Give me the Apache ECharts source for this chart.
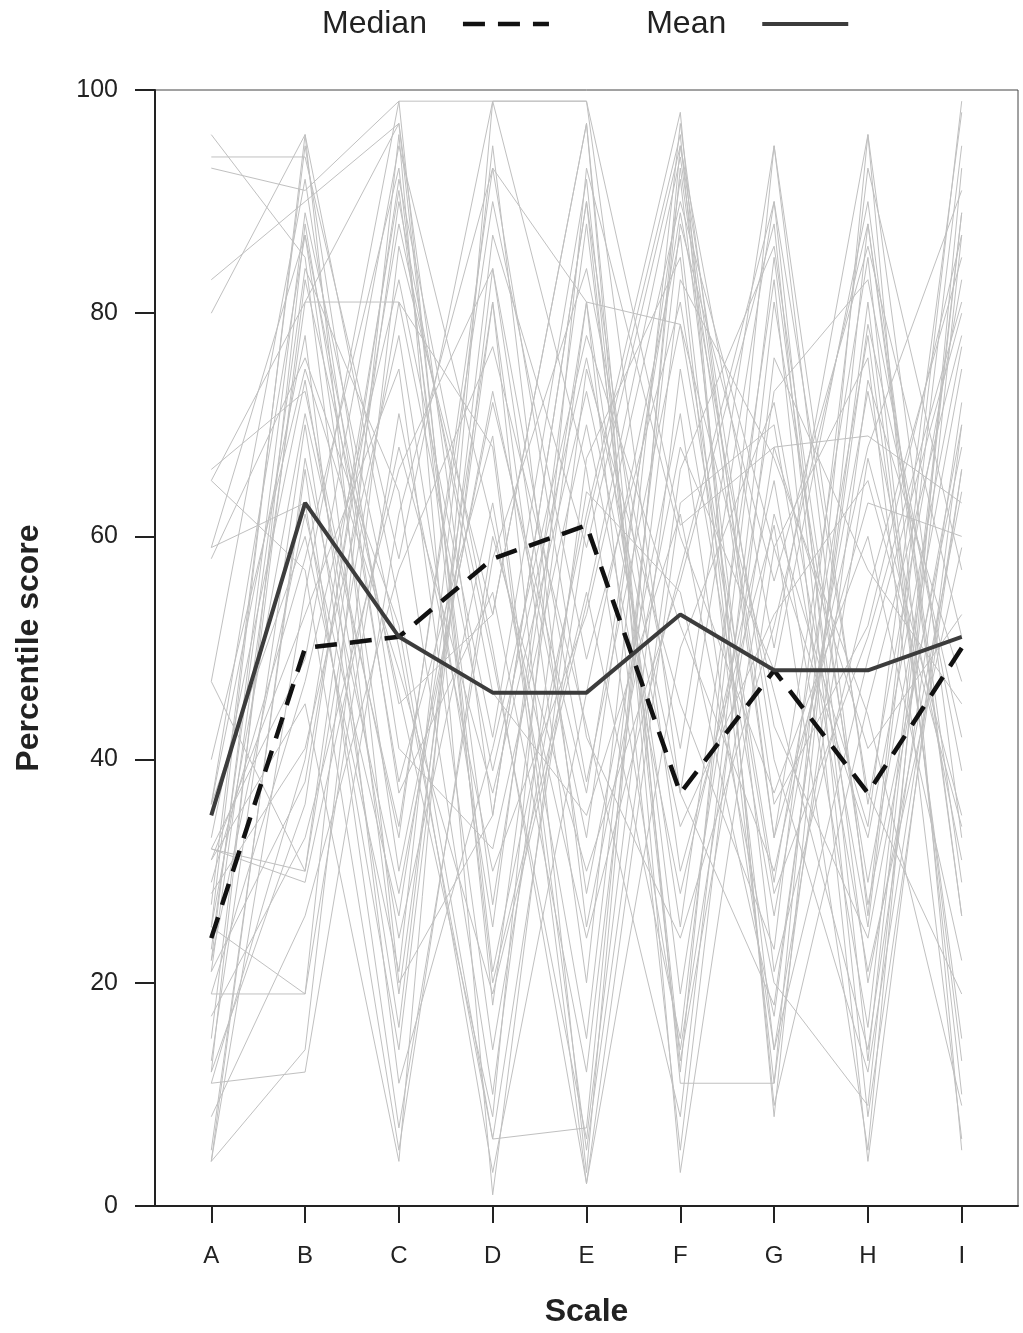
<!DOCTYPE html>
<html>
<head>
<meta charset="utf-8">
<script src="https://cdn.jsdelivr.net/npm/echarts@6/dist/echarts.min.js"></script>
<style>
  html, body { margin: 0; padding: 0; background: #fff; }
  #chart { width: 1023px; height: 1333px; }
</style>
</head>
<body>
<div id="chart"></div>
<script>
// Scale labels along the x axis
const scales = ['A', 'B', 'C', 'D', 'E', 'F', 'G', 'H', 'I'];

// Summary profiles
const medianScores = [24, 50, 51, 58, 61, 37, 48, 37, 50];
const meanScores = [35, 63, 51, 46, 46, 53, 48, 48, 51];

// Individual percentile profiles (one row per person, one value per scale)
const profiles = [
  [94, 94, 58, 99, 99, 61, 68, 69, 63],
  [93, 91, 99, 99, 99, 37, 90, 13, 89],
  [96, 85, 19, 81, 3, 95, 50, 96, 5],
  [83, 90, 97, 35, 90, 12, 95, 26, 99],
  [80, 96, 54, 6, 7, 93, 33, 85, 10],
  [66, 73, 33, 93, 81, 25, 83, 4, 70],
  [65, 81, 97, 21, 62, 98, 8, 88, 26],
  [59, 63, 14, 84, 38, 79, 28, 51, 81],
  [58, 76, 52, 3, 46, 87, 14, 67, 35],
  [47, 30, 81, 68, 2, 50, 72, 25, 95],
  [36, 87, 45, 53, 97, 3, 59, 76, 6],
  [32, 30, 90, 46, 35, 62, 20, 9, 87],
  [31, 45, 4, 99, 66, 14, 68, 41, 53],
  [25, 19, 96, 1, 67, 85, 11, 96, 33],
  [22, 62, 26, 81, 20, 97, 33, 63, 60],
  [21, 81, 81, 39, 76, 37, 18, 79, 42],
  [19, 19, 71, 30, 53, 90, 59, 33, 77],
  [12, 88, 38, 69, 5, 66, 86, 27, 68],
  [11, 12, 62, 93, 42, 24, 52, 88, 29],
  [4, 55, 99, 18, 81, 79, 46, 14, 72],
  [4, 67, 28, 73, 33, 92, 21, 55, 85],
  [4, 14, 86, 53, 97, 11, 11, 74, 47],
  [25, 96, 20, 35, 90, 30, 61, 5, 93],
  [32, 49, 95, 61, 24, 57, 90, 37, 19],
  [23, 84, 64, 10, 75, 45, 23, 93, 57],
  [13, 70, 16, 87, 59, 95, 40, 12, 66],
  [47, 92, 37, 55, 12, 83, 67, 44, 9],
  [28, 41, 78, 25, 88, 19, 73, 83, 39],
  [36, 78, 11, 41, 78, 52, 30, 68, 91],
  [17, 33, 66, 84, 28, 71, 14, 49, 80],
  [29, 58, 93, 20, 55, 15, 85, 20, 64],
  [15, 83, 46, 8, 93, 60, 37, 60, 22],
  [8, 26, 57, 77, 43, 8, 81, 29, 75],
  [33, 74, 24, 63, 15, 88, 56, 86, 51],
  [27, 95, 41, 32, 70, 28, 65, 16, 89],
  [21, 38, 88, 49, 6, 75, 26, 73, 31],
  [5, 66, 7, 58, 84, 41, 95, 36, 83],
  [31, 53, 75, 14, 64, 55, 17, 81, 13],
  [59, 87, 30, 72, 37, 89, 43, 24, 70],
  [11, 40, 91, 27, 81, 5, 76, 57, 45],
  [36, 60, 21, 95, 25, 68, 48, 90, 26],
  [22, 89, 50, 6, 61, 96, 9, 45, 78],
  [19, 47, 83, 42, 92, 13, 62, 34, 98],
  [25, 71, 34, 90, 49, 81, 29, 78, 15],
  [65, 57, 5, 60, 30, 56, 88, 8, 66],
  [32, 29, 68, 37, 73, 34, 53, 65, 34],
  [40, 75, 48, 19, 54, 94, 36, 52, 87],
  [12, 36, 92, 50, 2, 63, 70, 21, 59]
];

const yTicks = [0, 20, 40, 60, 80, 100];

const FONT = '"Liberation Sans", Arial, sans-serif';
const toPoints = vals => vals.map((v, i) => [i, v]);
const tickIdx = scales.map((_, i) => i);

const MEDIAN_STYLE = { color: '#111', width: 4.5, type: [22, 13] };
const MEAN_STYLE = { color: '#3c3c3c', width: 4 };

const profileSeries = profiles.map((row, k) => ({
  name: 'profile' + k,
  type: 'line',
  data: toPoints(row),
  symbol: 'none',
  silent: true,
  z: 1,
  lineStyle: { color: '#c0c0c0', width: 1 }
}));

const chart = echarts.init(document.getElementById('chart'), null, { renderer: 'canvas' });

chart.setOption({
  backgroundColor: '#ffffff',
  animation: false,
  legend: {
    data: [
      { name: 'Median', lineStyle: MEDIAN_STYLE },
      { name: 'Mean', lineStyle: MEAN_STYLE }
    ],
    left: 317,
    top: 3,
    align: 'right',
    itemWidth: 86,
    itemHeight: 14,
    itemGap: 95,
    itemStyle: { opacity: 0 },
    textStyle: { fontFamily: FONT, fontSize: 32, color: '#222', padding: [0, 31, 0, 0] },
    selectedMode: false
  },
  grid: {
    left: 155,
    right: 5,
    top: 90,
    bottom: 127,
    show: true,
    borderColor: '#444',
    borderWidth: 1
  },
  xAxis: {
    type: 'value',
    min: -0.6,
    max: 8.6,
    name: 'Scale',
    nameLocation: 'middle',
    nameGap: 90,
    nameTextStyle: { fontFamily: FONT, fontSize: 32, fontWeight: 'bold', color: '#222' },
    axisLine: { show: true, onZero: false, lineStyle: { color: '#222', width: 2 } },
    axisTick: { show: true, customValues: tickIdx, length: 17, lineStyle: { color: '#222', width: 2 } },
    axisLabel: {
      customValues: tickIdx,
      margin: 38,
      fontFamily: FONT,
      fontSize: 24,
      color: '#222',
      formatter: v => scales[Math.round(v)]
    },
    splitLine: { show: false }
  },
  yAxis: {
    type: 'value',
    min: 0,
    max: 100,
    interval: 20,
    name: 'Percentile score',
    nameLocation: 'middle',
    nameGap: 110,
    nameTextStyle: { fontFamily: FONT, fontSize: 32, fontWeight: 'bold', color: '#222' },
    axisLine: { show: true, onZero: false, lineStyle: { color: '#222', width: 2 } },
    axisTick: { show: true, length: 20, lineStyle: { color: '#222', width: 2 } },
    axisLabel: {
      margin: 37,
      fontFamily: FONT,
      fontSize: 25,
      color: '#222',
      formatter: v => (yTicks.includes(v) ? String(v) : '')
    },
    splitLine: { show: false }
  },
  series: [
    ...profileSeries,
    {
      name: 'Median',
      type: 'line',
      data: toPoints(medianScores),
      symbol: 'none',
      z: 5,
      lineStyle: MEDIAN_STYLE,
      itemStyle: { color: '#111' }
    },
    {
      name: 'Mean',
      type: 'line',
      data: toPoints(meanScores),
      symbol: 'none',
      z: 6,
      lineStyle: MEAN_STYLE,
      itemStyle: { color: '#3c3c3c' }
    }
  ]
});
</script>
</body>
</html>
